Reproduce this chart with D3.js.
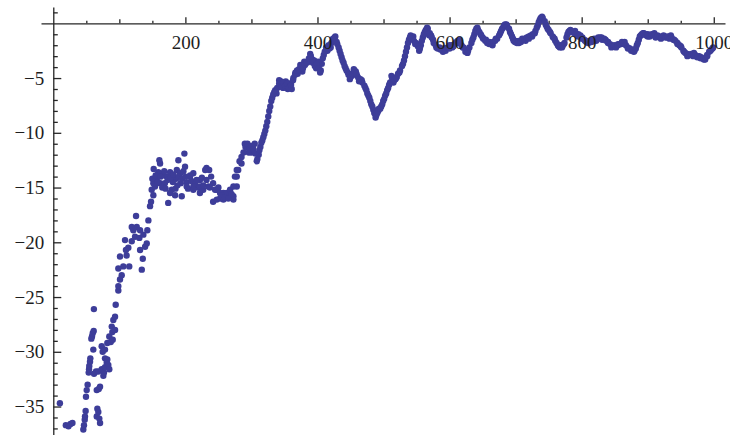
<!DOCTYPE html>
<html>
<head>
  <meta charset="utf-8">
  <title>List plot</title>
  <style>
    body { margin: 0; padding: 0; background: white; }
    svg { display: block; }
    .axis path, .axis line { stroke: #262626; stroke-width: 1.3; }
    .axis text { font-family: "Liberation Serif", "Times New Roman", serif; font-size: 19px; fill: #1e1e1e; }
    .dot { fill: #3d3d99; }
  </style>
</head>
<body>
  <div id="chart"></div>

  <script src="https://d3js.org/d3.v7.min.js"></script>
  <script>

  // ##### scattered points of the early part (x, y) #####
  var earlyPoints = [
    [10,-34.7],[19,-36.7],[23,-36.8],[26,-36.6],[29,-36.5],
    [45.5,-37.1],[46.5,-36.7],[47.6,-36.2],[48,-35.9],[49,-35.4],[49.5,-34.1],[50.6,-33.5],[52,-33.0],
    [53.6,-31.9],[54.1,-31.6],[54.5,-31.3],[55.6,-30.9],[56.1,-30.6],[57.6,-28.8],[58.6,-28.6],[59.7,-28.3],
    [60.6,-29.8],[61.2,-28.1],[61.5,-26.1],[61.7,-32.0],[64.7,-31.8],[65.8,-33.5],[65.8,-35.9],[66.7,-35.2],
    [68.2,-35.5],[68.8,-33.4],[68.2,-31.8],[69.7,-36.1],[70.8,-36.5],[70.8,-33.2],
    [73.3,-31.6],[73.3,-29.5],[74.8,-30.0],[75.8,-32.2],[76.8,-31.9],[78.3,-31.4],[78.3,-30.6],[78.3,-29.8],
    [80.9,-31.0],[81.8,-30.7],[81.8,-29.2],[83.3,-31.2],[84.8,-31.6],[84.8,-28.6],[87,-29.1],[88.5,-27.7],
    [89.4,-28.2],[90,-28.9],[90.9,-27.1],[93.5,-28.0],[93.5,-26.8],[94.5,-25.7],[98.5,-24.4],
    [98.5,-24.0],[101,-23.4],[103.6,-23.0],[98.5,-22.4],[106,-22.2],[115,-22.2],[101,-21.3],[111,-21.2],
    [113.6,-20.5],[110,-20.7],[134,-22.5],[135.5,-21.5],[131.4,-20.7],[139,-20.4],[141.5,-20.1],[108.6,-19.8],
    [118.8,-19.9],[123.8,-19.5],[130.3,-19.6],[136.4,-19.3],[121.2,-18.9],[126.4,-18.6],[118.8,-18.6],
    [131.4,-18.9],[142.4,-18.9],[144,-18.0],[125.3,-17.6],
    [146.5,-16.7],[148,-16.3],[151.5,-15.7],[149,-15.2],[151.5,-14.6],[154,-14.9],[174,-16.4],[161.7,-14.6],
    [156.7,-14.2],[159,-13.6],[161.7,-12.8],[160.6,-12.5],[166.7,-13.7],[171.7,-14.0],[176.8,-13.6],
    [179.4,-15.2],[176.8,-15.5],[184.4,-15.7],[189.4,-12.5],[198.5,-11.9],[199.5,-13.1],[187,-13.4],
    [192,-13.7],[186,-14.2],[193,-14.6],[202,-14.5],[207,-14.0],[212,-13.7],[194.5,-15.8],[181,-14.5],[169,-14.6],
    [150,-14.2],[152,-13.3],[155,-13.9],[158,-14.5],[163,-14.0],[165,-15.0],[168,-13.5],[170,-15.1],[173,-14.3],
    [178,-14.1],[182,-13.8],[185,-15.1],[188,-14.8],[190,-14.0],[195,-14.2],[197,-13.5],[200,-14.0],
    [204,-15.1],[209,-14.4],[215,-14.7],[219,-15.0],[225,-14.1],
    [232,-13.2],[236,-13.4],[222,-14.3],[242,-14.6],[247.5,-15.2],[242,-16.3],[252.5,-16.0],[262.7,-15.8],
    [272.7,-16.1],[257.6,-15.5],[267.7,-15.4],[277.8,-14.9],[277.8,-14.0],[280,-13.4],
    [202,-14.9],[212,-14.9],[222,-14.9],[227,-15.2],[207,-13.9],[217,-14.3],[212,-15.2],[230,-13.4],
    [232,-14.3],[227,-14.8],[222,-15.5],[235,-14.9],[245,-15.2],[252.5,-15.5],[247.5,-16.1],[257.6,-16.1],
    [262.7,-15.5],[267.7,-15.2],[272.7,-15.8],[272.7,-14.9],[275,-14.0],[277.8,-13.4],
    [237,-15.0],[239,-14.0],[250,-15.0],[255,-15.7],[260,-15.9],[265,-16.0],[270,-15.6]
  ]

  // ##### dense part: one value every 3 x units, starting at x = 282 #####
  var bandStart = 282,
      bandStep = 3
  var bandY = [
    -12.6,-12.2,-11.8,-11.3,-11.0,-11.5,-11.2,-11.5,-11.9,-12.4,
    -11.6,-10.9,-10.4,-9.8,-9.0,-8.0,-7.1,-6.5,-6.1,-5.9,
    -5.5,-5.8,-5.4,-5.7,-5.5,-5.9,-5.6,-5.2,-4.7,-4.3,
    -4.2,-3.9,-4.1,-3.8,-3.6,-3.2,-3.0,-3.6,-3.9,-3.7,
    -4.1,-4.3,-3.2,-2.6,-2.3,-2.0,-2.2,-1.6,-1.3,-1.7,
    -2.2,-2.8,-3.4,-3.9,-4.3,-4.7,-4.9,-4.6,-4.3,-4.6,
    -5.0,-5.1,-5.4,-5.7,-6.1,-6.6,-7.1,-7.6,-8.2,-8.4,
    -8.0,-7.8,-7.4,-6.9,-6.4,-5.9,-5.4,-5.0,-5.2,-5.0,
    -4.6,-4.3,-3.9,-3.4,-2.6,-1.8,-1.3,-1.4,-1.6,-1.8,
    -2.1,-2.3,-1.6,-1.0,-0.6,-0.5,-0.9,-1.3,-1.8,-2.0,
    -2.3,-2.2,-2.4,-2.3,-2.5,-2.2,-2.3,-2.0,-2.1,-1.8,
    -1.6,-1.8,-2.0,-2.2,-2.6,-2.7,-2.2,-1.8,-1.3,-0.7,
    -0.4,-0.8,-1.1,-1.4,-1.6,-1.8,-1.7,-1.9,-1.7,-1.6,
    -1.4,-1.1,-0.7,-0.4,-0.1,-0.2,-0.5,-1.0,-1.4,-1.7,
    -1.8,-1.6,-1.7,-1.5,-1.4,-1.3,-1.4,-1.1,-1.0,-0.9,
    -0.4,0.1,0.5,0.5,0.2,-0.3,-0.6,-0.9,-1.2,-1.4,
    -1.8,-2.1,-2.0,-2.1,-1.8,-1.3,-0.8,-0.6,-0.8,-0.9,
    -1.0,-1.2,-1.1,-1.3,-1.5,-1.7,-1.6,-1.7,-1.5,-1.4,
    -1.6,-1.4,-1.3,-1.5,-1.4,-1.6,-1.7,-1.9,-2.1,-2.0,
    -2.2,-2.0,-1.9,-1.7,-1.8,-2.0,-2.2,-2.3,-2.4,-2.6,
    -2.3,-1.8,-1.2,-1.0,-0.9,-1.1,-1.0,-1.2,-1.0,-1.1,
    -1.3,-1.1,-1.2,-1.3,-1.1,-1.3,-1.2,-1.4,-1.3,-1.5,
    -1.6,-1.8,-2.0,-2.2,-2.5,-2.7,-2.8,-2.9,-2.8,-3.0,
    -2.9,-3.1,-3.0,-3.1,-3.2,-3.3,-3.0,-2.6,-2.4,-2.2
  ]

  // ##### more points inside the dense part: steep stretches and the spread of the band #####
  var bandExtra = [
    [313.5,-11.3],[316.5,-10.7],[319.5,-10.1],[322.5,-9.4],[325.5,-8.5],[328.5,-7.6],[331.5,-6.8],[334.5,-6.3],
    [363.5,-5.0],[366.5,-4.5],[406.5,-3.7],[409.5,-2.9],[423.5,-1.4],
    [433.5,-2.5],[436.5,-3.1],[439.5,-3.6],[442.5,-4.1],
    [472.5,-5.9],[475.5,-6.4],[478.5,-6.8],[481.5,-7.4],[484.5,-7.9],[487.5,-8.3],[490.5,-8.2],
    [496.5,-7.6],[499.5,-7.1],[502.5,-6.6],[505.5,-6.1],[508.5,-5.6],
    [529.5,-3.7],[532.5,-3.0],[535.5,-2.2],[538.5,-1.5],
    [556.5,-2.0],[559.5,-1.3],[562.5,-0.8],
    [634.5,-1.5],[637.5,-1.0],[640.5,-0.5],
    [676.5,-0.9],[679.5,-0.5],[682.5,-0.2],[691.5,-0.8],[694.5,-1.2],
    [733.5,-0.2],[736.5,0.3],[745.5,-0.1],[748.5,-0.5],
    [778.5,-1.0],[781.5,-0.7],
    [883.5,-2.0],[886.5,-1.5],[889.5,-1.1],
    [300,-11.8],[305,-11.0],[345,-5.3],[355,-6.0],[380,-3.5],[395,-3.4],[415,-2.5],[460,-4.8],
    [520,-4.9],[545,-1.2],[575,-1.5],[590,-2.6],[600,-2.0],[615,-1.5],[625,-2.4],[655,-1.5],
    [665,-2.0],[700,-1.6],[715,-1.6],[725,-1.2],[760,-1.6],[770,-2.2],[790,-0.7],[800,-1.4],
    [815,-1.7],[830,-1.3],[845,-2.2],[860,-1.9],[875,-2.5],[900,-1.2],[910,-0.9],[920,-1.4],
    [935,-1.1],[950,-2.1],[960,-3.0],[970,-2.7],[980,-3.2],[995,-2.5],
    [285,-12.8],[290,-11.0],[296,-11.8],[302,-11.3],[308,-12.6],[311,-12.0],[338,-6.4],[342,-5.2],
    [348,-5.9],[352,-5.3],[358,-5.5],[361,-6.0],[370,-4.6],[374,-3.8],[377,-4.4],[386,-3.5],
    [389,-2.8],[392,-3.3],[398,-4.1],[401,-3.5],[404,-4.5],[413,-2.2],[418,-2.3],[421,-1.8],
    [427,-1.2],[430,-1.9],[446,-4.5],[449,-5.1],[452,-4.8],[455,-4.2],[458,-4.4],[463,-5.3],
    [467,-5.2],[488,-8.6],[493,-7.8],[512,-4.8],[515,-5.4],[518,-5.1],[524,-4.5],[541,-1.1],
    [548,-1.9],[551,-1.9],[554,-2.5],[566,-0.4],[569,-1.1],[572,-1.1],[580,-2.2],[586,-2.4],
    [594,-2.3],[604,-2.2],[608,-1.9],[611,-1.7],[620,-2.2],[628,-2.5],[643,-0.6],[647,-1.0],
    [650,-1.3],[660,-1.9],[670,-1.4],[686,-0.1],[697,-1.6],[705,-1.8],[710,-1.4],[720,-1.2],
    [730,-0.7],[740,0.6],[752,-0.8],[757,-1.3],[764,-2.0],[767,-2.2],[773,-1.9],[785,-0.8],
    [795,-1.0],[805,-1.6],[810,-1.8],[820,-1.5],[825,-1.3],[836,-1.5],[840,-1.8],[850,-2.1],
    [855,-1.9],[865,-1.7],[870,-2.3],[880,-2.5],[893,-0.9],[897,-1.0],[905,-1.1],[915,-1.2],
    [925,-1.2],[930,-1.3],[940,-1.5],[945,-1.9],[955,-2.6],[965,-2.9],[975,-3.0],[985,-3.3],
    [990,-2.9],[998,-2.3]
  ]

  // ##### ticks #####
  var xLabelTicks = [200, 400, 600, 800, 1000]
  var xMidTicks = [100, 300, 500, 700, 900]
  var xSmallTicks = [50, 150, 250, 350, 450, 550, 650, 750, 850, 950]
  var yLabelTicks = [-5, -10, -15, -20, -25, -30, -35]
  var ySmallTicks = [1, -1, -2, -3, -4, -6, -7, -8, -9, -11, -12, -13, -14, -16, -17, -18, -19,
                     -21, -22, -23, -24, -26, -27, -28, -29, -31, -32, -33, -34, -36, -37]

  var width = 730,
      height = 435

  var svg = d3.select("#chart").append("svg")
      .attr("width", width)
      .attr("height", height)

  var x = d3.scaleLinear().domain([-18.6, 1017]).range([41, 725])
  var y = d3.scaleLinear().domain([1.49, -37.6]).range([7, 435])

  // ##### build the point list #####
  var points = earlyPoints.concat(bandExtra).map(function (p) { return { x: p[0], y: p[1] } })
  bandY.forEach(function (v, i) {
    points.push({ x: bandStart + i * bandStep, y: v })
  })

  // ##### axes: lines and ticks (under the points) #####
  var xAxisG = svg.append("g").attr("class", "axis")
      .attr("transform", "translate(0," + y(0) + ")")
  xAxisG.call(d3.axisBottom(x).tickValues(xLabelTicks).tickSize(-6).tickSizeOuter(0).tickFormat(""))
  xAxisG.append("g").call(d3.axisBottom(x).tickValues(xMidTicks).tickSize(-4).tickFormat(""))
      .call(function (g) { g.select(".domain").remove() })
  xAxisG.append("g").call(d3.axisBottom(x).tickValues(xSmallTicks).tickSize(-2.5).tickFormat(""))
      .call(function (g) { g.select(".domain").remove() })

  var yAxisG = svg.append("g").attr("class", "axis")
      .attr("transform", "translate(" + x(0) + ",0)")
  yAxisG.call(d3.axisLeft(y).tickValues(yLabelTicks).tickSize(-8).tickSizeOuter(0).tickFormat(""))
  yAxisG.append("g").call(d3.axisLeft(y).tickValues(ySmallTicks).tickSize(-4.5).tickFormat(""))
      .call(function (g) { g.select(".domain").remove() })

  // ##### points #####
  svg.append("g").selectAll("circle")
      .data(points)
      .enter().append("circle")
      .attr("class", "dot")
      .attr("cx", function (d) { return x(d.x) })
      .attr("cy", function (d) { return y(d.y) })
      .attr("r", 3.2)

  // ##### tick labels (on top of the points) #####
  svg.append("g").attr("class", "axis")
      .attr("transform", "translate(0," + y(0) + ")")
      .call(d3.axisBottom(x).tickValues(xLabelTicks).tickSize(0).tickPadding(12).tickFormat(d3.format("d")))
      .call(function (g) { g.select(".domain").remove(); g.selectAll("line").remove() })

  svg.append("g").attr("class", "axis")
      .attr("transform", "translate(" + x(0) + ",0)")
      .call(d3.axisLeft(y).tickValues(yLabelTicks).tickSize(0).tickPadding(9))
      .call(function (g) { g.select(".domain").remove(); g.selectAll("line").remove() })

  </script>
</body>
</html>
